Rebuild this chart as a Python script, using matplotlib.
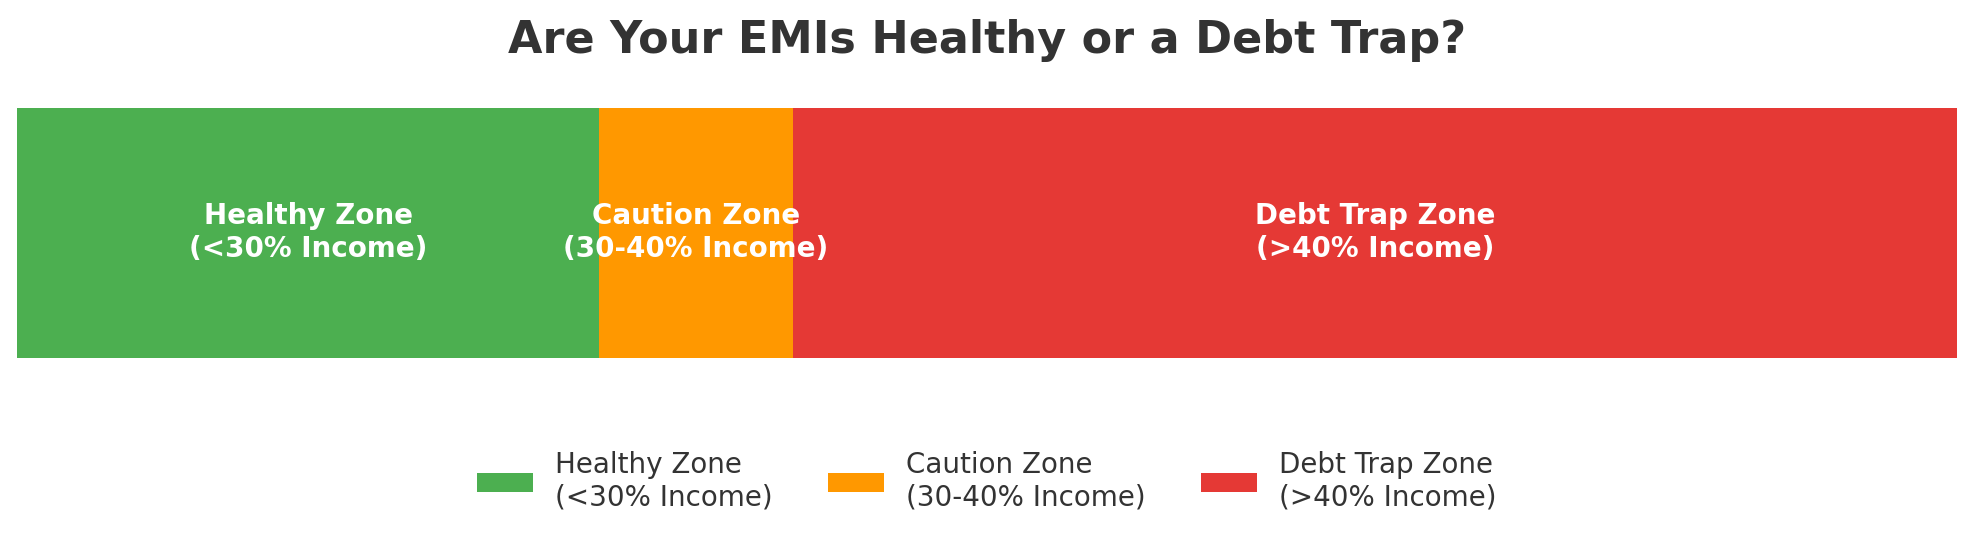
import matplotlib.pyplot as plt

# zone data (share of income, in %)
zones = ['Healthy Zone\n(<30% Income)', 'Caution Zone\n(30-40% Income)', 'Debt Trap Zone\n(>40% Income)']
widths = [30, 10, 60]
colors = ['#4CAF50', '#FF9800', '#E53935']

fig = plt.figure(figsize=(19.67, 5.33), dpi=100)
ax = fig.add_axes([17 / 1967, 1 - 357.5 / 533, 1940 / 1967, 249.5 / 533])

left = 0
for name, w, c in zip(zones, widths, colors):
    ax.barh(0, w, left=left, height=1, color=c, label=name)
    ax.text(left + w / 2, 0, name, ha='center', va='center', color='white',
            fontsize=20, fontweight='bold', linespacing=1.25)
    left += w

ax.set_xlim(0, 100)
ax.set_ylim(-0.5, 0.5)
ax.axis('off')

# centred on the axes, not the figure
cx = (17 + 1957) / 2 / 1967
fig.text(cx, 1 - 41 / 533, 'Are Your EMIs Healthy or a Debt Trap?', ha='center', va='center',
         fontsize=32, fontweight='bold', color='#333333')

fig.legend(loc='center', bbox_to_anchor=(cx, 1 - 481 / 533), ncol=3, frameon=False,
           fontsize=20, labelcolor='#333333')

fig.savefig('out.png', dpi=100)
